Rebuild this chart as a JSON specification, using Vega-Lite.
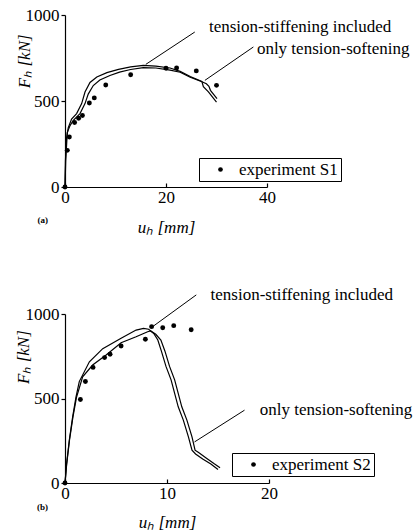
{
  "$schema": "https://vega.github.io/schema/vega-lite/v6.json",
  "background": "white",
  "padding": {"left": 15, "top": 6, "right": 0, "bottom": 0},
  "bounds": "flush",
  "spacing": 127,
  "config": {
    "view": {"stroke": null},
    "font": "Liberation Serif, Times New Roman, serif",
    "text": {"font": "Liberation Serif, Times New Roman, serif"},
    "axis": {
      "grid": false,
      "labelFlush": false,
      "labelOverlap": false,
      "domainColor": "black",
      "domainWidth": 1.2,
      "tickColor": "black",
      "tickWidth": 1.2,
      "labelColor": "black",
      "labelFont": "Liberation Serif, Times New Roman, serif",
      "labelFontSize": 17,
      "titleColor": "black",
      "titleFont": "Liberation Serif, Times New Roman, serif",
      "titleFontSize": 17,
      "titleFontStyle": "italic",
      "titleFontWeight": "normal",
      "format": "d"
    },
    "legend": {
      "labelFont": "Liberation Serif, Times New Roman, serif",
      "labelFontSize": 17,
      "labelColor": "black"
    }
  },
  "resolve": {"scale": {"shape": "independent", "x": "independent", "y": "independent"}, "legend": {"shape": "independent"}},
  "datasets": {
    "curvesA": [
      {"series": "tension-stiffening included", "u": 0, "F": 0},
      {"series": "tension-stiffening included", "u": 0.08, "F": 150},
      {"series": "tension-stiffening included", "u": 0.3, "F": 285},
      {"series": "tension-stiffening included", "u": 0.65, "F": 345},
      {"series": "tension-stiffening included", "u": 1.3, "F": 395},
      {"series": "tension-stiffening included", "u": 2.3, "F": 427},
      {"series": "tension-stiffening included", "u": 3.3, "F": 485},
      {"series": "tension-stiffening included", "u": 3.96, "F": 552},
      {"series": "tension-stiffening included", "u": 4.95, "F": 608},
      {"series": "tension-stiffening included", "u": 6.3, "F": 640},
      {"series": "tension-stiffening included", "u": 8.3, "F": 665},
      {"series": "tension-stiffening included", "u": 10.6, "F": 684},
      {"series": "tension-stiffening included", "u": 13, "F": 698},
      {"series": "tension-stiffening included", "u": 15.5, "F": 707},
      {"series": "tension-stiffening included", "u": 18, "F": 703},
      {"series": "tension-stiffening included", "u": 20.8, "F": 692},
      {"series": "tension-stiffening included", "u": 22.8, "F": 672},
      {"series": "tension-stiffening included", "u": 24.8, "F": 642},
      {"series": "tension-stiffening included", "u": 27.1, "F": 614},
      {"series": "tension-stiffening included", "u": 27.4, "F": 583},
      {"series": "tension-stiffening included", "u": 28.4, "F": 553},
      {"series": "tension-stiffening included", "u": 30.0, "F": 494},
      {"series": "only tension-softening", "u": 0, "F": 0},
      {"series": "only tension-softening", "u": 0.15, "F": 160},
      {"series": "only tension-softening", "u": 0.46, "F": 318},
      {"series": "only tension-softening", "u": 1.0, "F": 357},
      {"series": "only tension-softening", "u": 1.65, "F": 388},
      {"series": "only tension-softening", "u": 2.97, "F": 427},
      {"series": "only tension-softening", "u": 3.96, "F": 485},
      {"series": "only tension-softening", "u": 4.6, "F": 540},
      {"series": "only tension-softening", "u": 5.6, "F": 590},
      {"series": "only tension-softening", "u": 6.9, "F": 622},
      {"series": "only tension-softening", "u": 8.9, "F": 648},
      {"series": "only tension-softening", "u": 10.8, "F": 668},
      {"series": "only tension-softening", "u": 13, "F": 683},
      {"series": "only tension-softening", "u": 15.5, "F": 694},
      {"series": "only tension-softening", "u": 18, "F": 692},
      {"series": "only tension-softening", "u": 20.8, "F": 680},
      {"series": "only tension-softening", "u": 22.8, "F": 667},
      {"series": "only tension-softening", "u": 24.8, "F": 638},
      {"series": "only tension-softening", "u": 27.1, "F": 612},
      {"series": "only tension-softening", "u": 28.0, "F": 600},
      {"series": "only tension-softening", "u": 28.5, "F": 585},
      {"series": "only tension-softening", "u": 28.8, "F": 562},
      {"series": "only tension-softening", "u": 30.1, "F": 514}
    ],
    "expA": [
      {"label": "experiment S1", "u": 0, "F": 0},
      {"label": "experiment S1", "u": 0.46, "F": 213},
      {"label": "experiment S1", "u": 0.86, "F": 291},
      {"label": "experiment S1", "u": 1.9, "F": 375},
      {"label": "experiment S1", "u": 2.7, "F": 400},
      {"label": "experiment S1", "u": 3.45, "F": 416},
      {"label": "experiment S1", "u": 4.82, "F": 488},
      {"label": "experiment S1", "u": 5.8, "F": 518},
      {"label": "experiment S1", "u": 8.07, "F": 593},
      {"label": "experiment S1", "u": 13.0, "F": 653},
      {"label": "experiment S1", "u": 20.0, "F": 690},
      {"label": "experiment S1", "u": 22.1, "F": 692},
      {"label": "experiment S1", "u": 26.0, "F": 675},
      {"label": "experiment S1", "u": 30.0, "F": 591}
    ],
    "annA": [
      {"text": "tension-stiffening included", "x1": 25.7, "y1": 901, "x2": 16.0, "y2": 713, "tx": 28.5, "ty": 928},
      {"text": "only tension-softening", "x1": 37.3, "y1": 814, "x2": 27.7, "y2": 620, "tx": 38.0, "ty": 800}
    ],
    "tagA": [{"tag": "(a)", "u": -4.4, "F": -194}],
    "ytitleA": [{"t": "Fₕ [kN]", "u": -7.9, "F": 731}],
    "curvesB": [
      {"series": "tension-stiffening included", "u": 0, "F": 0},
      {"series": "tension-stiffening included", "u": 0.16, "F": 115},
      {"series": "tension-stiffening included", "u": 0.42, "F": 253},
      {"series": "tension-stiffening included", "u": 0.75, "F": 391},
      {"series": "tension-stiffening included", "u": 1.08, "F": 510},
      {"series": "tension-stiffening included", "u": 1.4, "F": 600},
      {"series": "tension-stiffening included", "u": 2.39, "F": 717},
      {"series": "tension-stiffening included", "u": 3.7, "F": 795},
      {"series": "tension-stiffening included", "u": 5.5, "F": 856},
      {"series": "tension-stiffening included", "u": 6.97, "F": 905},
      {"series": "tension-stiffening included", "u": 7.7, "F": 915},
      {"series": "tension-stiffening included", "u": 8.2, "F": 910},
      {"series": "tension-stiffening included", "u": 8.7, "F": 885},
      {"series": "tension-stiffening included", "u": 9.1, "F": 846},
      {"series": "tension-stiffening included", "u": 9.45, "F": 780},
      {"series": "tension-stiffening included", "u": 9.9, "F": 690},
      {"series": "tension-stiffening included", "u": 10.4, "F": 610},
      {"series": "tension-stiffening included", "u": 10.75, "F": 530},
      {"series": "tension-stiffening included", "u": 11.1, "F": 451},
      {"series": "tension-stiffening included", "u": 11.6, "F": 372},
      {"series": "tension-stiffening included", "u": 12.1, "F": 273},
      {"series": "tension-stiffening included", "u": 12.45, "F": 194},
      {"series": "tension-stiffening included", "u": 12.8, "F": 172},
      {"series": "tension-stiffening included", "u": 13.5, "F": 142},
      {"series": "tension-stiffening included", "u": 14.3, "F": 112},
      {"series": "tension-stiffening included", "u": 15.0, "F": 80},
      {"series": "only tension-softening", "u": 0, "F": 0},
      {"series": "only tension-softening", "u": 0.17, "F": 115},
      {"series": "only tension-softening", "u": 0.44, "F": 253},
      {"series": "only tension-softening", "u": 0.78, "F": 391},
      {"series": "only tension-softening", "u": 1.12, "F": 505},
      {"series": "only tension-softening", "u": 1.73, "F": 628},
      {"series": "only tension-softening", "u": 2.71, "F": 698},
      {"series": "only tension-softening", "u": 4.03, "F": 757},
      {"series": "only tension-softening", "u": 5.5, "F": 830},
      {"series": "only tension-softening", "u": 6.97, "F": 865},
      {"series": "only tension-softening", "u": 8.1, "F": 895},
      {"series": "only tension-softening", "u": 8.4, "F": 900},
      {"series": "only tension-softening", "u": 8.9, "F": 880},
      {"series": "only tension-softening", "u": 9.4, "F": 846},
      {"series": "only tension-softening", "u": 9.8, "F": 780},
      {"series": "only tension-softening", "u": 10.25, "F": 690},
      {"series": "only tension-softening", "u": 10.75, "F": 610},
      {"series": "only tension-softening", "u": 11.1, "F": 530},
      {"series": "only tension-softening", "u": 11.45, "F": 451},
      {"series": "only tension-softening", "u": 11.95, "F": 372},
      {"series": "only tension-softening", "u": 12.45, "F": 273},
      {"series": "only tension-softening", "u": 12.75, "F": 194},
      {"series": "only tension-softening", "u": 13.1, "F": 180},
      {"series": "only tension-softening", "u": 13.8, "F": 150},
      {"series": "only tension-softening", "u": 14.6, "F": 115},
      {"series": "only tension-softening", "u": 15.2, "F": 90}
    ],
    "expB": [
      {"label": "experiment S2", "u": 0, "F": 0},
      {"label": "experiment S2", "u": 1.51, "F": 494},
      {"label": "experiment S2", "u": 2.0, "F": 601},
      {"label": "experiment S2", "u": 2.75, "F": 684},
      {"label": "experiment S2", "u": 3.88, "F": 742},
      {"label": "experiment S2", "u": 4.42, "F": 762},
      {"label": "experiment S2", "u": 5.5, "F": 811},
      {"label": "experiment S2", "u": 7.88, "F": 851},
      {"label": "experiment S2", "u": 8.49, "F": 925},
      {"label": "experiment S2", "u": 9.58, "F": 919},
      {"label": "experiment S2", "u": 10.66, "F": 931},
      {"label": "experiment S2", "u": 12.37, "F": 907}
    ],
    "annB": [
      {"text": "tension-stiffening included", "x1": 12.87, "y1": 1113, "x2": 8.45, "y2": 919, "tx": 14.27, "ty": 1113},
      {"text": "only tension-softening", "x1": 17.6, "y1": 431, "x2": 12.7, "y2": 243, "tx": 19.1, "ty": 431}
    ],
    "tagB": [{"tag": "(b)", "u": -2.2, "F": -144}],
    "ytitleB": [{"t": "Fₕ [kN]", "u": -4.0, "F": 745}]
  },
  "vconcat": [
    {
      "width": 202,
      "height": 172,
      "layer": [
        {
          "data": {"name": "curvesA"},
          "mark": {"type": "line", "color": "black", "strokeWidth": 1.2},
          "encoding": {
            "x": {"field": "u", "type": "quantitative", "scale": {"domain": [0, 40], "nice": false},
              "axis": {"values": [0, 20, 40], "tickSize": -4, "labelPadding": 6, "title": "uₕ [mm]", "titleY": 40, "titleBaseline": "middle"}},
            "y": {"field": "F", "type": "quantitative", "scale": {"domain": [0, 1000], "nice": false},
              "axis": {"values": [0, 500, 1000], "tickSize": 4, "labelPadding": 2, "title": null}},
            "detail": {"field": "series"}
          }
        },
        {
          "data": {"name": "expA"},
          "mark": {"type": "point", "filled": true, "color": "black", "size": 24, "opacity": 1},
          "encoding": {
            "x": {"field": "u", "type": "quantitative"},
            "y": {"field": "F", "type": "quantitative"},
            "shape": {"field": "label", "type": "nominal", "scale": {"range": ["circle"]},
              "legend": {"title": null, "orient": "none", "legendX": 134, "legendY": 143, "strokeColor": "black", "padding": 3, "symbolOffset": 10, "labelOffset": 10, "symbolFillColor": "black", "symbolStrokeColor": "black", "symbolSize": 22}}
          }
        },
        {
          "data": {"name": "annA"},
          "mark": {"type": "rule", "color": "black", "strokeWidth": 1},
          "encoding": {
            "x": {"field": "x1", "type": "quantitative"},
            "y": {"field": "y1", "type": "quantitative"},
            "x2": {"field": "x2"},
            "y2": {"field": "y2"}
          }
        },
        {
          "data": {"name": "annA"},
          "mark": {"type": "text", "align": "left", "baseline": "middle", "fontSize": 17, "color": "black", "font": "Liberation Serif, Times New Roman, serif"},
          "encoding": {
            "x": {"field": "tx", "type": "quantitative"},
            "y": {"field": "ty", "type": "quantitative"},
            "text": {"field": "text"}
          }
        },
        {
          "data": {"name": "ytitleA"},
          "mark": {"type": "text", "align": "center", "baseline": "middle", "angle": 270, "fontSize": 17, "fontStyle": "italic", "color": "black", "font": "Liberation Serif, Times New Roman, serif"},
          "encoding": {
            "x": {"field": "u", "type": "quantitative"},
            "y": {"field": "F", "type": "quantitative"},
            "text": {"field": "t"}
          }
        },
        {
          "data": {"name": "tagA"},
          "mark": {"type": "text", "align": "center", "baseline": "middle", "fontSize": 9, "fontWeight": "bold", "color": "black", "font": "Liberation Serif, Times New Roman, serif"},
          "encoding": {
            "x": {"field": "u", "type": "quantitative"},
            "y": {"field": "F", "type": "quantitative"},
            "text": {"field": "tag"}
          }
        }
      ]
    },
    {
      "width": 204,
      "height": 169,
      "layer": [
        {
          "data": {"name": "curvesB"},
          "mark": {"type": "line", "color": "black", "strokeWidth": 1.2},
          "encoding": {
            "x": {"field": "u", "type": "quantitative", "scale": {"domain": [0, 20], "nice": false},
              "axis": {"values": [0, 10, 20], "tickSize": -4, "labelPadding": 6, "title": "uₕ [mm]", "titleY": 39, "titleBaseline": "middle"}},
            "y": {"field": "F", "type": "quantitative", "scale": {"domain": [0, 1000], "nice": false},
              "axis": {"values": [0, 500, 1000], "tickSize": 4, "labelPadding": 2, "title": null}},
            "detail": {"field": "series"}
          }
        },
        {
          "data": {"name": "expB"},
          "mark": {"type": "point", "filled": true, "color": "black", "size": 24, "opacity": 1},
          "encoding": {
            "x": {"field": "u", "type": "quantitative"},
            "y": {"field": "F", "type": "quantitative"},
            "shape": {"field": "label", "type": "nominal", "scale": {"range": ["circle"]},
              "legend": {"title": null, "orient": "none", "legendX": 167, "legendY": 139, "strokeColor": "black", "padding": 3, "symbolOffset": 10, "labelOffset": 10, "symbolFillColor": "black", "symbolStrokeColor": "black", "symbolSize": 22}}
          }
        },
        {
          "data": {"name": "annB"},
          "mark": {"type": "rule", "color": "black", "strokeWidth": 1},
          "encoding": {
            "x": {"field": "x1", "type": "quantitative"},
            "y": {"field": "y1", "type": "quantitative"},
            "x2": {"field": "x2"},
            "y2": {"field": "y2"}
          }
        },
        {
          "data": {"name": "annB"},
          "mark": {"type": "text", "align": "left", "baseline": "middle", "fontSize": 17, "color": "black", "font": "Liberation Serif, Times New Roman, serif"},
          "encoding": {
            "x": {"field": "tx", "type": "quantitative"},
            "y": {"field": "ty", "type": "quantitative"},
            "text": {"field": "text"}
          }
        },
        {
          "data": {"name": "ytitleB"},
          "mark": {"type": "text", "align": "center", "baseline": "middle", "angle": 270, "fontSize": 17, "fontStyle": "italic", "color": "black", "font": "Liberation Serif, Times New Roman, serif"},
          "encoding": {
            "x": {"field": "u", "type": "quantitative"},
            "y": {"field": "F", "type": "quantitative"},
            "text": {"field": "t"}
          }
        },
        {
          "data": {"name": "tagB"},
          "mark": {"type": "text", "align": "center", "baseline": "middle", "fontSize": 9, "fontWeight": "bold", "color": "black", "font": "Liberation Serif, Times New Roman, serif"},
          "encoding": {
            "x": {"field": "u", "type": "quantitative"},
            "y": {"field": "F", "type": "quantitative"},
            "text": {"field": "tag"}
          }
        }
      ]
    }
  ]
}
